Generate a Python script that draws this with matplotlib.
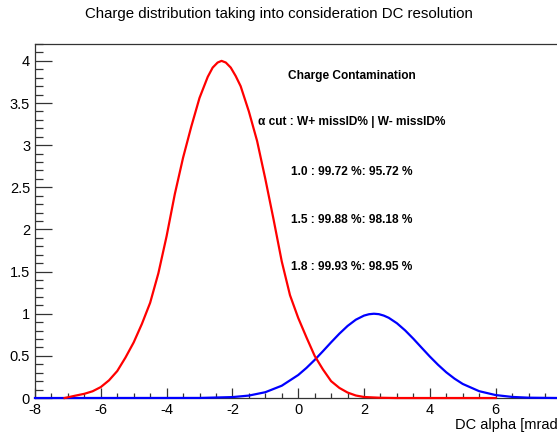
"""Charge distribution with DC resolution (ROOT-style canvas)."""
import matplotlib
matplotlib.use('Agg')
import matplotlib.pyplot as plt
from matplotlib.ticker import MultipleLocator

plt.rcParams['font.family'] = ['Liberation Sans', 'DejaVu Sans']
plt.rcParams['axes.unicode_minus'] = False

# W+ (red) curve
red_x = [-7.1, -6.75, -6.5, -6.25, -6.0, -5.75, -5.5, -5.25, -5.0, -4.75,
         -4.5, -4.25, -4.0, -3.75, -3.5, -3.25, -3.0, -2.75, -2.6, -2.45,
         -2.33, -2.2, -2.05, -1.9, -1.75, -1.5, -1.25, -1.0, -0.75, -0.5,
         -0.25, 0.0, 0.25, 0.5, 0.75, 1.0, 1.25, 1.5, 1.75, 2.0,
         2.5, 3.0, 6.0]
red_y = [0.0, 0.03, 0.05, 0.08, 0.13, 0.21, 0.32, 0.48, 0.66, 0.88,
         1.13, 1.48, 1.92, 2.42, 2.85, 3.22, 3.56, 3.81, 3.92, 3.98,
         4.0, 3.98, 3.92, 3.82, 3.70, 3.40, 3.05, 2.60, 2.12, 1.62,
         1.22, 0.95, 0.72, 0.50, 0.34, 0.20, 0.12, 0.065, 0.03, 0.012,
         0.003, 0.0, 0.0]

# W- (blue) curve
blue_x = [-8.0, -3.0, -2.0, -1.5, -1.0, -0.5, 0.0, 0.25, 0.5, 0.75,
          1.0, 1.25, 1.5, 1.75, 2.0, 2.15, 2.3, 2.45, 2.6, 2.75,
          3.0, 3.25, 3.5, 3.75, 4.0, 4.25, 4.5, 4.75, 5.0, 5.5,
          6.0, 6.5, 7.0, 8.0]
blue_y = [0.0, 0.001, 0.011, 0.029, 0.069, 0.146, 0.273, 0.357, 0.452, 0.555,
          0.661, 0.763, 0.855, 0.929, 0.978, 0.994, 1.0, 0.995, 0.978, 0.952,
          0.887, 0.802, 0.703, 0.597, 0.492, 0.394, 0.305, 0.230, 0.167, 0.081,
          0.035, 0.013, 0.004, 0.0]

title = 'Charge distribution taking into consideration DC resolution'
box_lines = [
    'Charge Contamination',
    '\u03b1 cut : W+ missID% | W- missID%',
    '1.0 : 99.72 %: 95.72 %',
    '1.5 : 99.88 %: 98.18 %',
    '1.8 : 99.93 %: 98.95 %',
]
box_y = [3.82, 3.27, 2.68, 2.11, 1.56]

fig = plt.figure(figsize=(5.57, 4.34), dpi=100)
ax = fig.add_axes([0.0628, 0.0829, 0.9452, 0.8157])

ax.plot(blue_x, blue_y, color='#0000ff', lw=1.6, zorder=3, clip_on=False)
ax.plot(red_x, red_y, color='#ff0000', lw=1.6, zorder=4, clip_on=False)

ax.set_xlim(-8, 8)
ax.set_ylim(0, 4.2)
ax.xaxis.set_major_locator(MultipleLocator(2))
ax.xaxis.set_minor_locator(MultipleLocator(0.5))
ax.yaxis.set_major_locator(MultipleLocator(0.5))
ax.yaxis.set_minor_locator(MultipleLocator(0.1))
ax.yaxis.set_major_formatter(plt.FuncFormatter(lambda v, p: f'{v:g}'))

ax.tick_params(axis='both', which='both', direction='in', colors='#333333',
               labelcolor='black', labelsize=10.5, width=0.9, pad=3.5)
ax.tick_params(axis='y', which='major', length=12)
ax.tick_params(axis='y', which='minor', length=6)
ax.tick_params(axis='x', which='major', length=7.2)
ax.tick_params(axis='x', which='minor', length=3.6)
for s in ax.spines.values():
    s.set_color('#333333')
    s.set_linewidth(0.9)

ax.set_xlabel('DC alpha [mrad]', fontsize=10.5, loc='right', labelpad=1)

fig.text(0.501, 0.967, title, ha='center', va='center', fontsize=10.8)

for line, yv in zip(box_lines, box_y):
    ax.text(1.64, yv, line, ha='center', va='center', fontsize=8.6,
            fontweight='bold')

fig.savefig('out.png', dpi=100)
